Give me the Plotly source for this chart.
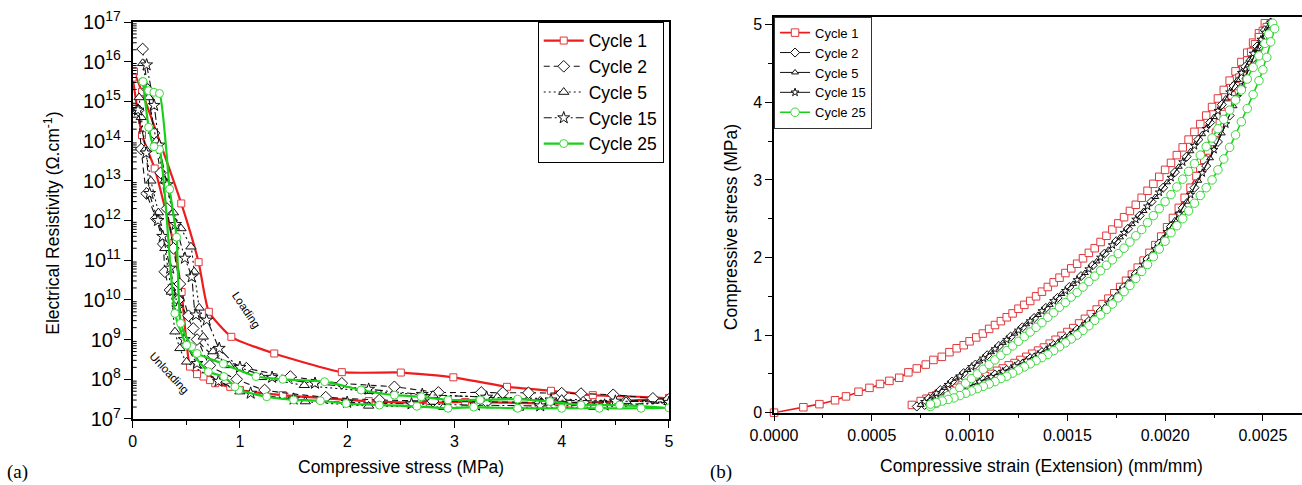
import plotly.graph_objects as go

# ---------------- Panel (a): resistivity vs stress (values as log10 of resistivity) ----------------
c1_load_x = [0.012, 0.087, 0.453, 0.615, 0.71, 0.92, 1.32, 1.95, 2.50, 2.99, 3.49, 3.90, 4.29, 5.00]
c1_load_log = [15.75, 15.24, 12.43, 10.95, 9.70, 9.07, 8.65, 8.18, 8.17, 8.05, 7.81, 7.71, 7.60, 7.53]
c1_unload_x = [4.06, 3.10, 2.77, 2.20, 1.40, 1.00, 0.91, 0.77, 0.72, 0.66, 0.60, 0.534, 0.456, 0.38, 0.205, 0.087, 0.0]
c1_unload_log = [7.39, 7.43, 7.41, 7.45, 7.60, 7.73, 7.81, 7.90, 7.98, 8.07, 8.13, 8.32, 10.20, 11.43, 13.31, 14.15, 15.60]

c2_load_x = [0.093, 0.14, 0.20, 0.26, 0.32, 0.38, 0.44, 0.52, 0.60, 0.75, 1.06, 1.47, 1.95, 2.44, 2.85, 3.25, 3.45, 3.69, 4.00, 4.18, 4.48, 4.85]
c2_load_log = [16.32, 15.30, 14.20, 13.20, 12.30, 11.30, 10.40, 9.60, 9.00, 8.60, 8.28, 8.07, 7.90, 7.81, 7.67, 7.67, 7.66, 7.66, 7.65, 7.64, 7.61, 7.52]
c2_unload_x = [5.00, 4.60, 4.20, 3.80, 3.30, 2.80, 2.30, 1.80, 1.23, 0.97, 0.72, 0.565, 0.425, 0.348, 0.30, 0.285, 0.22, 0.13, 0.08, 0.052]
c2_unload_log = [7.50, 7.45, 7.42, 7.42, 7.43, 7.45, 7.48, 7.55, 7.73, 8.00, 8.35, 9.28, 10.00, 10.25, 10.71, 11.41, 12.05, 12.68, 13.80, 14.78]

c5_load_x = [0.093, 0.15, 0.22, 0.30, 0.38, 0.45, 0.543, 0.574, 0.62, 0.658, 0.75, 0.90, 1.20, 1.60, 2.20, 2.80, 3.40, 4.00, 4.60, 5.00]
c5_load_log = [15.96, 15.10, 14.00, 13.00, 12.20, 11.80, 11.34, 10.71, 9.80, 9.07, 8.70, 8.35, 8.05, 7.85, 7.70, 7.60, 7.55, 7.50, 7.45, 7.42]
c5_unload_x = [4.30, 3.60, 2.90, 2.20, 1.61, 1.00, 0.503, 0.44, 0.394, 0.36, 0.30, 0.24, 0.17, 0.12, 0.08, 0.06]
c5_unload_log = [7.30, 7.28, 7.30, 7.33, 7.44, 7.69, 8.44, 8.78, 9.20, 10.20, 11.30, 12.20, 13.00, 13.80, 14.60, 15.10]

c15_load_x = [0.13, 0.20, 0.248, 0.32, 0.40, 0.487, 0.55, 0.59, 0.69, 0.807, 1.00, 1.30, 1.70, 2.20, 2.70, 3.30, 3.90, 4.50, 5.00]
c15_load_log = [15.92, 14.90, 13.90, 12.90, 11.90, 11.05, 10.58, 9.62, 9.49, 8.78, 8.30, 8.05, 7.90, 7.75, 7.62, 7.55, 7.48, 7.45, 7.42]
c15_unload_x = [4.40, 3.80, 3.20, 2.60, 2.00, 1.50, 1.10, 0.80, 0.60, 0.48, 0.42, 0.35, 0.28, 0.236, 0.158, 0.127, 0.05]
c15_unload_log = [7.35, 7.33, 7.35, 7.38, 7.42, 7.50, 7.65, 7.95, 8.40, 9.00, 9.80, 10.80, 11.60, 12.00, 12.68, 13.70, 14.78]

c25_load_x = [0.093, 0.149, 0.198, 0.25, 0.345, 0.41, 0.447, 0.55, 0.60, 0.845, 1.15, 1.40, 1.79, 2.13, 2.44, 2.69, 2.94, 3.24, 3.59, 3.89, 4.18, 4.54, 5.00]
c25_load_log = [15.50, 15.27, 15.23, 15.20, 12.79, 11.58, 9.41, 8.82, 8.65, 8.39, 8.07, 8.00, 7.94, 7.73, 7.60, 7.56, 7.48, 7.48, 7.50, 7.44, 7.35, 7.35, 7.28]
c25_unload_x = [4.74, 4.35, 4.00, 3.59, 3.18, 2.94, 2.65, 2.30, 1.99, 1.75, 1.50, 1.25, 0.99, 0.953, 0.85, 0.705, 0.503, 0.394, 0.25, 0.198, 0.149, 0.096]
c25_unload_log = [7.27, 7.27, 7.27, 7.27, 7.30, 7.27, 7.32, 7.35, 7.39, 7.46, 7.48, 7.56, 7.73, 7.81, 8.07, 8.19, 8.86, 9.66, 13.79, 13.86, 14.35, 15.50]

# ---------------- Panel (b): stress vs strain, (strain, stress) pairs ----------------
r_c1_load = [(0.0, 0.0), (0.00015, 0.07), (0.000232, 0.11), (0.000312, 0.16), (0.000368, 0.21), (0.000432, 0.27),
             (0.000488, 0.32), (0.000542, 0.37), (0.00059, 0.41), (0.00064, 0.45), (0.000687, 0.52), (0.00073, 0.57),
             (0.000776, 0.62), (0.000815, 0.68), (0.000858, 0.72), (0.000897, 0.78), (0.000934, 0.83), (0.00097, 0.87),
             (0.001, 0.92), (0.001034, 0.97), (0.001068, 1.02), (0.0011, 1.08), (0.00113, 1.13), (0.00116, 1.18),
             (0.00119, 1.23), (0.00122, 1.28), (0.00125, 1.34), (0.00128, 1.39), (0.00131, 1.44), (0.00134, 1.50),
             (0.00137, 1.56), (0.0014, 1.62), (0.00143, 1.68), (0.00146, 1.74), (0.00149, 1.80), (0.00152, 1.86),
             (0.00155, 1.92), (0.00158, 1.99), (0.00161, 2.06), (0.00164, 2.12), (0.00167, 2.20), (0.0017, 2.28),
             (0.00173, 2.36), (0.00176, 2.44), (0.00179, 2.52), (0.00182, 2.60), (0.00185, 2.68), (0.00188, 2.77),
             (0.00191, 2.86), (0.00194, 2.95), (0.00197, 3.04), (0.002, 3.13), (0.00203, 3.22), (0.00206, 3.32),
             (0.00209, 3.42), (0.00212, 3.52), (0.00215, 3.62), (0.00218, 3.72), (0.00221, 3.83), (0.00224, 3.94),
             (0.00227, 4.05), (0.0023, 4.16), (0.00233, 4.28), (0.00236, 4.40), (0.00239, 4.52), (0.00242, 4.64),
             (0.00245, 4.77), (0.00248, 4.89), (0.00251, 5.02)]
r_c1_unload = [(0.00252, 4.97), (0.0025, 4.92), (0.00248, 4.84), (0.00246, 4.75), (0.00244, 4.65), (0.00242, 4.54),
               (0.0024, 4.43), (0.00238, 4.32), (0.00236, 4.21), (0.00234, 4.09), (0.00232, 3.97), (0.0023, 3.85),
               (0.00228, 3.73), (0.00226, 3.61), (0.00224, 3.49), (0.00222, 3.38), (0.0022, 3.26), (0.00218, 3.15),
               (0.00216, 3.05), (0.00213, 2.90), (0.0021, 2.77), (0.00207, 2.64), (0.00204, 2.51), (0.00201, 2.39),
               (0.00198, 2.27), (0.00195, 2.16), (0.00192, 2.06), (0.00189, 1.96), (0.00186, 1.87), (0.00183, 1.78),
               (0.0018, 1.70), (0.00177, 1.62), (0.00174, 1.54), (0.00171, 1.47), (0.00168, 1.40), (0.00165, 1.33),
               (0.00162, 1.27), (0.00159, 1.21), (0.00156, 1.15), (0.00153, 1.09), (0.0015, 1.04), (0.00147, 0.99),
               (0.00144, 0.94), (0.00141, 0.89), (0.00138, 0.84), (0.00135, 0.80), (0.00132, 0.76), (0.00129, 0.72),
               (0.00126, 0.68), (0.00123, 0.64), (0.0012, 0.61), (0.00117, 0.57), (0.00114, 0.54), (0.00111, 0.50),
               (0.00108, 0.47), (0.00105, 0.44), (0.00102, 0.41), (0.00099, 0.38), (0.00096, 0.35), (0.00093, 0.32),
               (0.0009, 0.29), (0.00087, 0.26), (0.00084, 0.24), (0.00081, 0.21), (0.00078, 0.18), (0.00075, 0.15),
               (0.000705, 0.10)]

r_c2_load = [(0.00073, 0.08), (0.00079, 0.18), (0.00085, 0.29), (0.00091, 0.40), (0.00097, 0.51), (0.00103, 0.62),
             (0.00109, 0.74), (0.00115, 0.86), (0.00121, 0.98), (0.00127, 1.10), (0.00133, 1.22), (0.00139, 1.35),
             (0.00145, 1.48), (0.00151, 1.62), (0.00157, 1.76), (0.00163, 1.90), (0.00169, 2.05), (0.00175, 2.21),
             (0.00181, 2.37), (0.00187, 2.54), (0.00193, 2.72), (0.00199, 2.90), (0.00205, 3.10), (0.00211, 3.30),
             (0.00217, 3.52), (0.00223, 3.74), (0.00229, 3.97), (0.00235, 4.21), (0.00241, 4.46), (0.00247, 4.72),
             (0.00254, 5.03)]
r_c2_unload = [(0.00251, 4.93), (0.00245, 4.57), (0.00239, 4.19), (0.00233, 3.83), (0.00227, 3.49), (0.00221, 3.18),
               (0.00215, 2.90), (0.00209, 2.64), (0.00203, 2.40), (0.00197, 2.18), (0.00191, 1.98), (0.00185, 1.79),
               (0.00179, 1.62), (0.00173, 1.46), (0.00167, 1.31), (0.00161, 1.18), (0.00155, 1.07), (0.00149, 0.96),
               (0.00143, 0.87), (0.00137, 0.78), (0.00131, 0.70), (0.00125, 0.62), (0.00119, 0.55), (0.00113, 0.49),
               (0.00107, 0.42), (0.00101, 0.36), (0.00095, 0.29), (0.00089, 0.23), (0.00083, 0.17), (0.00077, 0.10)]

r_c5_load = [(0.00075, 0.10), (0.00081, 0.21), (0.00087, 0.32), (0.00093, 0.44), (0.00099, 0.55), (0.00105, 0.66),
             (0.00111, 0.78), (0.00117, 0.90), (0.00123, 1.02), (0.00129, 1.14), (0.00135, 1.26), (0.00141, 1.39),
             (0.00147, 1.53), (0.00153, 1.66), (0.00159, 1.80), (0.00165, 1.95), (0.00171, 2.10), (0.00177, 2.26),
             (0.00183, 2.43), (0.00189, 2.60), (0.00195, 2.78), (0.00201, 2.97), (0.00207, 3.17), (0.00213, 3.37),
             (0.00219, 3.59), (0.00225, 3.81), (0.00231, 4.05), (0.00237, 4.29), (0.00243, 4.55), (0.00249, 4.81),
             (0.00254, 5.03)]
r_c5_unload = [(0.00253, 4.98), (0.00247, 4.69), (0.00241, 4.32), (0.00235, 3.95), (0.00229, 3.60), (0.00223, 3.28),
               (0.00217, 2.99), (0.00211, 2.72), (0.00205, 2.48), (0.00199, 2.25), (0.00193, 2.04), (0.00187, 1.85),
               (0.00181, 1.68), (0.00175, 1.51), (0.00169, 1.36), (0.00163, 1.22), (0.00157, 1.10), (0.00151, 1.00),
               (0.00145, 0.90), (0.00139, 0.81), (0.00133, 0.73), (0.00127, 0.65), (0.00121, 0.57), (0.00115, 0.51),
               (0.00109, 0.44), (0.00103, 0.38), (0.00097, 0.31), (0.00091, 0.25), (0.00085, 0.19), (0.00079, 0.12)]

r_c15_load = [(0.00077, 0.14), (0.00083, 0.25), (0.00089, 0.36), (0.00095, 0.47), (0.00101, 0.59), (0.00107, 0.70),
              (0.00113, 0.82), (0.00119, 0.94), (0.00125, 1.06), (0.00131, 1.18), (0.00137, 1.31), (0.00143, 1.44),
              (0.00149, 1.57), (0.00155, 1.71), (0.00161, 1.85), (0.00167, 2.00), (0.00173, 2.16), (0.00179, 2.32),
              (0.00185, 2.49), (0.00191, 2.66), (0.00197, 2.84), (0.00203, 3.03), (0.00209, 3.23), (0.00215, 3.44),
              (0.00221, 3.66), (0.00227, 3.89), (0.00233, 4.13), (0.00239, 4.38), (0.00245, 4.63), (0.00251, 4.90),
              (0.00254, 5.03)]
r_c15_unload = [(0.00249, 4.81), (0.00243, 4.44), (0.00237, 4.07), (0.00231, 3.72), (0.00225, 3.39), (0.00219, 3.09),
                (0.00213, 2.81), (0.00207, 2.56), (0.00201, 2.33), (0.00195, 2.11), (0.00189, 1.91), (0.00183, 1.73),
                (0.00177, 1.57), (0.00171, 1.41), (0.00165, 1.26), (0.00159, 1.14), (0.00153, 1.03), (0.00147, 0.93),
                (0.00141, 0.84), (0.00135, 0.75), (0.00129, 0.67), (0.00123, 0.60), (0.00117, 0.53), (0.00111, 0.46),
                (0.00105, 0.40), (0.00099, 0.33), (0.00093, 0.27), (0.00087, 0.21), (0.00081, 0.14)]

r_c25_load = [(0.0008, 0.08), (0.00083, 0.12), (0.00086, 0.17), (0.00089, 0.22), (0.00092, 0.27), (0.00095, 0.32),
              (0.00098, 0.38), (0.00101, 0.44), (0.00104, 0.50), (0.00107, 0.56), (0.0011, 0.62), (0.00113, 0.68),
              (0.00116, 0.74), (0.00119, 0.80), (0.00122, 0.86), (0.00125, 0.92), (0.00128, 0.98), (0.00131, 1.04),
              (0.00134, 1.10), (0.00137, 1.16), (0.0014, 1.23), (0.00143, 1.29), (0.00146, 1.36), (0.00149, 1.42),
              (0.00152, 1.49), (0.00155, 1.55), (0.00158, 1.62), (0.00161, 1.69), (0.00164, 1.76), (0.00167, 1.83),
              (0.0017, 1.90), (0.00173, 1.97), (0.00176, 2.05), (0.00179, 2.12), (0.00182, 2.20), (0.00185, 2.28),
              (0.00188, 2.36), (0.00191, 2.45), (0.00194, 2.54), (0.00197, 2.63), (0.002, 2.72), (0.00203, 2.81),
              (0.00206, 2.91), (0.00209, 3.01), (0.00212, 3.11), (0.00215, 3.21), (0.00218, 3.32), (0.00221, 3.43),
              (0.00224, 3.54), (0.00227, 3.66), (0.0023, 3.78), (0.00233, 3.90), (0.00236, 4.03), (0.00239, 4.16),
              (0.00242, 4.30), (0.00245, 4.45), (0.00248, 4.60), (0.00251, 4.76), (0.00253, 4.88), (0.00255, 5.02)]
r_c25_unload = [(0.00256, 4.95), (0.00254, 4.78), (0.00252, 4.58), (0.0025, 4.42), (0.00248, 4.28), (0.00245, 4.10),
                (0.00242, 3.92), (0.00239, 3.75), (0.00236, 3.58), (0.00233, 3.42), (0.0023, 3.27), (0.00227, 3.13),
                (0.00224, 3.00), (0.00221, 2.90), (0.00218, 2.80), (0.00215, 2.70), (0.00212, 2.60), (0.00209, 2.50),
                (0.00206, 2.41), (0.00203, 2.32), (0.002, 2.21), (0.00197, 2.11), (0.00194, 2.01), (0.00191, 1.91),
                (0.00188, 1.82), (0.00185, 1.73), (0.00182, 1.64), (0.00179, 1.56), (0.00176, 1.48), (0.00173, 1.40),
                (0.0017, 1.33), (0.00167, 1.26), (0.00164, 1.19), (0.00161, 1.12), (0.00158, 1.06), (0.00155, 1.00),
                (0.00152, 0.95), (0.00149, 0.90), (0.00146, 0.85), (0.00143, 0.80), (0.0014, 0.75), (0.00137, 0.71),
                (0.00134, 0.67), (0.00131, 0.63), (0.00128, 0.59), (0.00125, 0.55), (0.00122, 0.51), (0.00119, 0.47),
                (0.00116, 0.44), (0.00113, 0.40), (0.0011, 0.37), (0.00107, 0.34), (0.00104, 0.31), (0.00101, 0.28),
                (0.00098, 0.25), (0.00095, 0.22), (0.00092, 0.19), (0.00089, 0.17), (0.00086, 0.15), (0.00083, 0.13),
                (0.0008, 0.11)]

cycle_names = ["Cycle 1", "Cycle 2", "Cycle 5", "Cycle 15", "Cycle 25"]

RED = "#ee1c1c"
RED_M = "#e0383c"
GREEN = "#18d018"
GREEN_M = "#3ad83a"
BLACK = "#111111"
FONT = "Liberation Sans, Arial, sans-serif"
SERIF = "Liberation Serif, Times New Roman, serif"

fig = go.Figure()

# ---- panel (a) ----
left_sets = [
    (c1_load_x + c1_unload_x, c1_load_log + c1_unload_log, "square", RED, RED_M, 2.2, "solid", 7),
    (c2_load_x + c2_unload_x, c2_load_log + c2_unload_log, "diamond", BLACK, BLACK, 1.1, "6px,4px", 9),
    (c5_load_x + c5_unload_x, c5_load_log + c5_unload_log, "triangle-up", BLACK, BLACK, 1.1, "2px,3px", 9),
    (c15_load_x + c15_unload_x, c15_load_log + c15_unload_log, "star", BLACK, BLACK, 1.1, "8px,3px,2px,3px", 9),
    (c25_load_x + c25_unload_x, c25_load_log + c25_unload_log, "circle", GREEN, GREEN_M, 2.2, "solid", 8),
]
for name, (xs, logs, sym, lc, mc, lw, dash, ms) in zip(cycle_names, left_sets):
    fig.add_trace(go.Scatter(
        x=xs, y=[10 ** v for v in logs], mode="lines+markers", name=name,
        line=dict(color=lc, width=lw, dash=dash, shape="spline", smoothing=0.5),
        marker=dict(symbol=sym, size=ms, color="white", line=dict(color=mc, width=1)),
        xaxis="x", yaxis="y", legend="legend", showlegend=True,
    ))

# ---- panel (b) ----
right_sets = [
    (r_c1_load + r_c1_unload, "square", RED, RED_M, 1.6, 7.5),
    (r_c2_load + r_c2_unload, "diamond", BLACK, BLACK, 1.0, 7),
    (r_c5_load + r_c5_unload, "triangle-up", BLACK, BLACK, 1.0, 6),
    (r_c15_load + r_c15_unload, "star", BLACK, BLACK, 1.0, 6),
    (r_c25_load + r_c25_unload, "circle", GREEN, GREEN_M, 1.6, 8.5),
]
for name, (pts, sym, lc, mc, lw, ms) in zip(cycle_names, right_sets):
    xs = [p[0] for p in pts]
    ys = [p[1] for p in pts]
    fig.add_trace(go.Scatter(
        x=xs, y=ys, mode="lines+markers", name=name,
        line=dict(color=lc, width=lw),
        marker=dict(symbol=sym, size=ms, color="white", line=dict(color=mc, width=1)),
        xaxis="x2", yaxis="y2", legend="legend2", cliponaxis=False,
    ))

axis_common = dict(showline=True, linecolor="black", linewidth=1.5, showgrid=False, zeroline=False,
                   automargin=False,
                   ticks="outside", ticklen=7, tickwidth=1.2, tickcolor="black",
                   tickfont=dict(family=FONT, size=16, color="black"))

fig.update_layout(
    width=1302, height=485,
    margin=dict(l=0, r=0, t=0, b=0, autoexpand=False),
    paper_bgcolor="white", plot_bgcolor="white",
    font=dict(family=FONT, color="black"),
    xaxis=dict(domain=[0.1019, 0.5138], range=[0, 5], dtick=1, anchor="y", mirror=True,
               minor=dict(dtick=0.5, ticks="outside", ticklen=4, tickcolor="black"), **axis_common),
    yaxis=dict(domain=[0.1361, 0.9546], type="log", range=[7, 17], dtick=1, anchor="x", mirror=True,
               exponentformat="power", showexponent="all", **axis_common),
    xaxis2=dict(domain=[0.5945, 1.0], range=[0, 0.0027], dtick=0.0005, tickformat=".4f", anchor="y2", mirror=True,
                minor=dict(dtick=0.00025, ticks="outside", ticklen=4, tickcolor="black"), **axis_common),
    yaxis2=dict(domain=[0.1491, 0.9649], range=[0, 5.1], dtick=1, anchor="x2", mirror=False,
                minor=dict(dtick=0.5, ticks="outside", ticklen=4, tickcolor="black"), **axis_common),
    legend=dict(x=0.413, y=0.9553, xanchor="left", yanchor="top", bgcolor="white",
                bordercolor="black", borderwidth=1, font=dict(family=FONT, size=17.5, color="black"),
                itemwidth=40, tracegroupgap=0),
    legend2=dict(x=0.5945, y=0.9656, xanchor="left", yanchor="top", bgcolor="white",
                 bordercolor="#333333", borderwidth=1, font=dict(family=FONT, size=13, color="black"),
                 itemwidth=30, tracegroupgap=0),
    showlegend=True,
)

# inward minor ticks of the log axis (2..9 within each decade), drawn as short axis-attached segments
minor_shapes = []
for e in range(7, 17):
    for m in range(2, 10):
        v = m * 10 ** e
        minor_shapes.append(dict(type="line", xref="x domain", yref="y", x0=0, x1=0.0075, y0=v, y1=v,
                                 line=dict(color="black", width=1), layer="above"))
fig.update_layout(shapes=minor_shapes)

annotations = [
    dict(text="Electrical Resistivity (Ω.cm<sup>-1</sup>)", x=0.0397, y=0.540, textangle=-90,
         font=dict(family=FONT, size=17.5)),
    dict(text="Compressive stress (MPa)", x=0.308, y=0.037, font=dict(family=FONT, size=17.5)),
    dict(text="Compressive strain (Extension) (mm/mm)", x=0.800, y=0.039, font=dict(family=FONT, size=17.5)),
    dict(text="Compressive stress (MPa)", x=0.562, y=0.531, textangle=-90, font=dict(family=FONT, size=17.5)),
    dict(text="(a)", x=0.0138, y=0.027, font=dict(family=SERIF, size=19)),
    dict(text="(b)", x=0.5538, y=0.027, font=dict(family=SERIF, size=19)),
]
for a in annotations:
    a.update(xref="paper", yref="paper", xanchor="center", yanchor="middle", showarrow=False)
annotations += [
    dict(text="Loading", x=1.06, y=9.75, xref="x", yref="y", textangle=56, showarrow=False,
         xanchor="center", yanchor="middle", font=dict(family=FONT, size=11.5)),
    dict(text="Unloading", x=0.34, y=8.15, xref="x", yref="y", textangle=47, showarrow=False,
         xanchor="center", yanchor="middle", font=dict(family=FONT, size=11.5)),
]
fig.update_layout(annotations=annotations)

fig.write_html("out.html")
